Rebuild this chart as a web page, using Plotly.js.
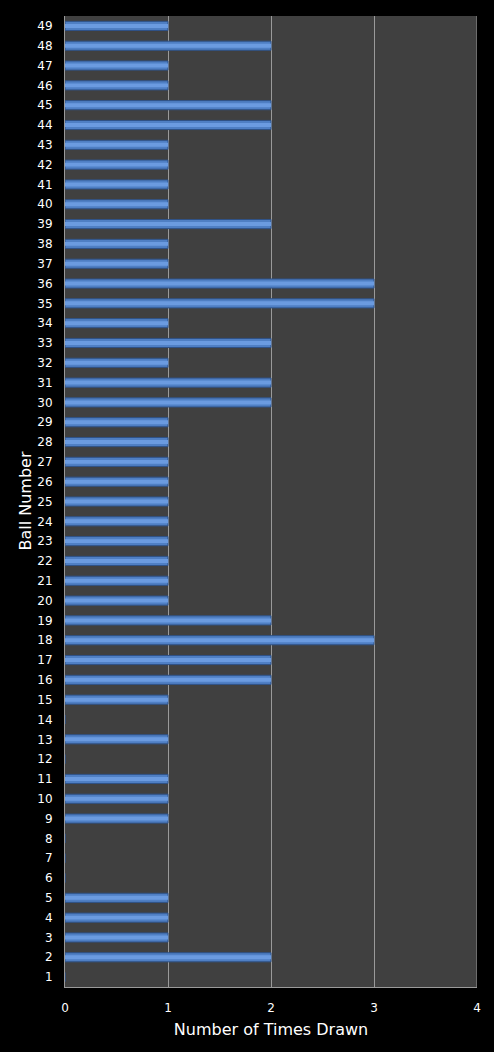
<!DOCTYPE html>
<html>
<head>
<meta charset="utf-8">
<script src="https://cdn.plot.ly/plotly-3.0.1.min.js"></script>
<style>html,body{margin:0;padding:0;background:#000;}</style>
</head>
<body>
<div id="chart" style="width:494px;height:1052px;"></div>
<script>
const balls = [];
for (let i = 1; i <= 49; i++) balls.push(String(i));
const timesDrawn = [0,2,1,1,1,0,0,0,1,1,1,0,1,0,1,2,2,3,2,1,1,1,1,1,1,1,1,1,1,2,2,1,2,1,3,3,1,1,2,1,1,1,1,2,2,1,1,2,1];
const xTicks = [0,1,2,3,4];
const yTitle = 'Ball Number';
const xTitle = 'Number of Times Drawn';

Plotly.newPlot('chart', [{
  type: 'bar',
  orientation: 'h',
  y: balls,
  x: timesDrawn,
  width: 0.46,
  marker: {color: '#4f7fc4', line: {color: '#2f5287', width: 1}},
  hoverinfo: 'none'
}, {
  type: 'bar',
  orientation: 'h',
  y: balls,
  x: timesDrawn,
  width: 0.2,
  marker: {color: '#6b9be0', line: {width: 0}},
  hoverinfo: 'none'
}], {
  width: 494, height: 1052,
  paper_bgcolor: '#000000',
  plot_bgcolor: '#404040',
  margin: {l: 65, r: 17, t: 16, b: 65},
  barmode: 'overlay',
  showlegend: false,
  font: {family: 'DejaVu Sans, Verdana, sans-serif', color: '#ffffff', size: 12},
  xaxis: {
    range: [0, 4], tickvals: xTicks, ticktext: xTicks.map(String),
    showgrid: true, gridcolor: '#9a9a9a', gridwidth: 1,
    zeroline: false, showline: true, linecolor: '#9a9a9a', mirror: false,
    ticks: '', ticklen: 0, ticklabelstandoff: 10, tickfont: {size: 12, color: '#ffffff'},
    title: {text: xTitle, font: {size: 16, color: '#ffffff'}, standoff: 9}
  },
  yaxis: {
    type: 'category', categoryorder: 'array', categoryarray: balls,
    showgrid: false, zeroline: false, showline: true, linecolor: '#9a9a9a',
    ticks: '', ticklabelstandoff: 9, tickfont: {size: 12, color: '#ffffff'}
  },
  annotations: [{
    text: yTitle, xref: 'paper', yref: 'paper', x: -0.097, y: 0.5,
    xanchor: 'center', yanchor: 'middle', textangle: -90, showarrow: false,
    font: {size: 16, color: '#ffffff'}
  }],
  shapes: [{type: 'line', xref: 'x', yref: 'paper', x0: 4, x1: 4, y0: 0, y1: 1, line: {color: '#9a9a9a', width: 1}}]
}, {staticPlot: true});
</script>
</body>
</html>
